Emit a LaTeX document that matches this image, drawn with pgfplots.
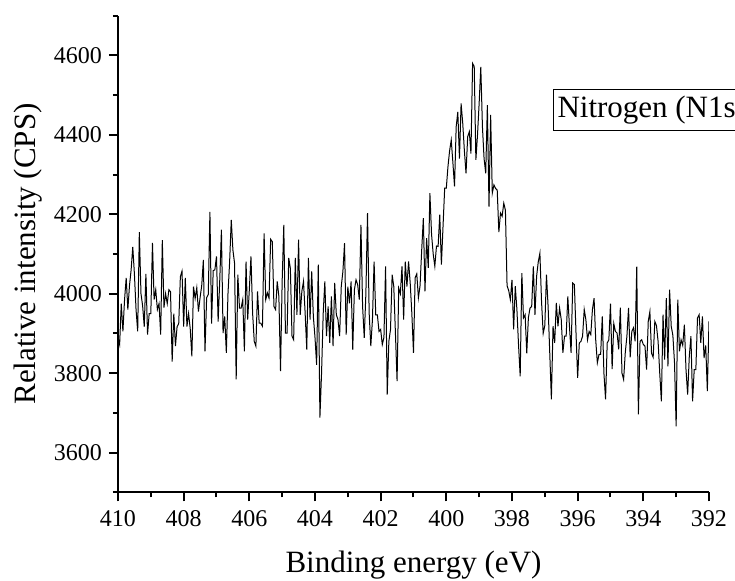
\documentclass[border=0pt]{standalone}
\usepackage{fontspec}
\setmainfont{Liberation Serif}
\usepackage{pgfplots}
\pgfplotsset{compat=1.18}
\begin{document}
\begin{tikzpicture}
\useasboundingbox (-59pt,-44.35pt) rectangle (308.5pt,246.15pt);
\begin{axis}[
  at={(0pt,0pt)}, anchor=south west,
  scale only axis, width=295.5pt, height=238.3pt,
  xmin=392, xmax=410, ymin=3500, ymax=4700,
  x dir=reverse,
  axis x line*=bottom, axis y line*=left,
  axis line style={line width=1pt, black},
  xtick={392,394,...,410}, minor xtick={393,395,...,409},
  ytick={3600,3800,...,4600}, minor ytick={3500,3700,...,4700},
  tick align=outside,
  major tick length=4.5pt, minor tick length=2.5pt,
  tick style={black, line width=1pt},
  tick label style={font=\fontsize{12}{14}\selectfont},
  xticklabel shift=1pt,
  /pgf/number format/assume math mode=true,
  /pgf/number format/1000 sep={},
  xlabel={Binding energy (eV)}, ylabel={Relative intensity (CPS)},
  label style={font=\fontsize{15.5}{18}\selectfont},
  xlabel style={at={(axis description cs:0.5,-0.1693)}, anchor=base},
  ylabel style={at={(axis description cs:-0.1404,0.5)}, anchor=base},
]
\addplot[black, line width=0.5pt, mark=none] table[row sep=\\] {
410.00 3890 \\ 409.95 3872 \\ 409.90 3975 \\ 409.85 3905 \\ 409.80 3985 \\ 409.75 4040 \\ 409.70 3960 \\ 409.65 4020 \\ 409.60 4060 \\ 409.55 4118 \\
409.50 4050 \\ 409.45 3960 \\ 409.40 3905 \\ 409.35 4155 \\ 409.30 4000 \\ 409.25 3970 \\ 409.20 3917 \\ 409.15 4050 \\ 409.10 3897 \\ 409.05 3950 \\
409.00 3950 \\ 408.95 4128 \\ 408.90 3985 \\ 408.85 4010 \\ 408.80 3960 \\ 408.75 3975 \\ 408.70 3897 \\ 408.65 4135 \\ 408.60 3965 \\ 408.55 4000 \\
408.50 3975 \\ 408.45 4010 \\ 408.40 4005 \\ 408.35 3829 \\ 408.30 3950 \\ 408.25 3868 \\ 408.20 3917 \\ 408.15 3925 \\ 408.10 4043 \\ 408.05 4057 \\
408.00 3917 \\ 407.95 4040 \\ 407.90 3917 \\ 407.85 3950 \\ 407.80 3912 \\ 407.75 3842 \\ 407.70 4018 \\ 407.65 3988 \\ 407.60 4015 \\ 407.55 3955 \\
407.50 3990 \\ 407.45 4020 \\ 407.40 4085 \\ 407.35 3855 \\ 407.30 3990 \\ 407.25 3998 \\ 407.20 4206 \\ 407.15 3925 \\ 407.10 4058 \\ 407.05 4060 \\
407.00 4094 \\ 406.95 3930 \\ 406.90 4035 \\ 406.85 4161 \\ 406.80 3901 \\ 406.75 3943 \\ 406.70 3851 \\ 406.65 4000 \\ 406.60 4080 \\ 406.55 4186 \\
406.50 4110 \\ 406.45 4077 \\ 406.40 3784 \\ 406.35 4048 \\ 406.30 3964 \\ 406.25 3964 \\ 406.20 3985 \\ 406.15 3855 \\ 406.10 4081 \\ 406.05 3935 \\
406.00 4010 \\ 405.95 4094 \\ 405.90 3951 \\ 405.85 3880 \\ 405.80 3868 \\ 405.75 4006 \\ 405.70 3926 \\ 405.65 3926 \\ 405.60 3918 \\ 405.55 4152 \\
405.50 3985 \\ 405.45 4002 \\ 405.40 3989 \\ 405.35 4137 \\ 405.30 4131 \\ 405.25 3968 \\ 405.20 3960 \\ 405.15 4031 \\ 405.10 3993 \\ 405.05 3805 \\
405.00 4031 \\ 404.95 4173 \\ 404.90 3901 \\ 404.85 3901 \\ 404.80 4090 \\ 404.75 4064 \\ 404.70 3893 \\ 404.65 3884 \\ 404.60 4090 \\ 404.55 3947 \\
404.50 4136 \\ 404.45 3947 \\ 404.40 4006 \\ 404.35 4031 \\ 404.30 3951 \\ 404.25 3859 \\ 404.20 4090 \\ 404.15 3935 \\ 404.10 4056 \\ 404.05 3943 \\
404.00 3890 \\ 403.95 3821 \\ 403.90 4073 \\ 403.85 3688 \\ 403.80 3800 \\ 403.75 3950 \\ 403.70 4031 \\ 403.65 3893 \\ 403.60 3968 \\ 403.55 3876 \\
403.50 3993 \\ 403.45 3868 \\ 403.40 4027 \\ 403.35 3947 \\ 403.30 3935 \\ 403.25 3893 \\ 403.20 4018 \\ 403.15 4056 \\ 403.10 4127 \\ 403.05 3897 \\
403.00 4018 \\ 402.95 3976 \\ 402.90 4031 \\ 402.85 3859 \\ 402.80 4010 \\ 402.75 4035 \\ 402.70 4023 \\ 402.65 3985 \\ 402.60 4173 \\ 402.55 3968 \\
402.50 3889 \\ 402.45 4000 \\ 402.40 4203 \\ 402.35 3951 \\ 402.30 3868 \\ 402.25 3935 \\ 402.20 4081 \\ 402.15 3947 \\ 402.10 3947 \\ 402.05 3905 \\
402.00 3910 \\ 401.95 3872 \\ 401.90 3890 \\ 401.85 4069 \\ 401.80 3746 \\ 401.75 3880 \\ 401.70 3910 \\ 401.65 4048 \\ 401.60 4018 \\ 401.55 3900 \\
401.50 3780 \\ 401.45 4014 \\ 401.40 4000 \\ 401.35 4069 \\ 401.30 3935 \\ 401.25 4081 \\ 401.20 4018 \\ 401.15 4081 \\ 401.10 4027 \\ 401.05 3950 \\
401.00 3851 \\ 400.95 4040 \\ 400.90 4050 \\ 400.85 3990 \\ 400.80 4020 \\ 400.75 4110 \\ 400.70 4190 \\ 400.65 4006 \\ 400.60 4140 \\ 400.55 4065 \\
400.50 4253 \\ 400.45 4150 \\ 400.40 4100 \\ 400.35 4069 \\ 400.30 4120 \\ 400.25 4119 \\ 400.20 4199 \\ 400.15 4073 \\ 400.10 4170 \\ 400.05 4266 \\
400.00 4266 \\ 399.95 4320 \\ 399.90 4360 \\ 399.85 4387 \\ 399.80 4330 \\ 399.75 4270 \\ 399.70 4420 \\ 399.65 4458 \\ 399.60 4340 \\ 399.55 4479 \\
399.50 4429 \\ 399.45 4360 \\ 399.40 4303 \\ 399.35 4395 \\ 399.30 4408 \\ 399.25 4353 \\ 399.20 4580 \\ 399.15 4572 \\ 399.10 4337 \\ 399.05 4400 \\
399.00 4480 \\ 398.95 4571 \\ 398.90 4420 \\ 398.85 4340 \\ 398.80 4303 \\ 398.75 4475 \\ 398.70 4219 \\ 398.65 4450 \\ 398.60 4253 \\ 398.55 4274 \\
398.50 4265 \\ 398.45 4261 \\ 398.40 4155 \\ 398.35 4203 \\ 398.30 4195 \\ 398.25 4228 \\ 398.20 4210 \\
398.15 4020 \\ 398.10 4008 \\ 398.05 3985 \\ 398.00 4035 \\ 397.95 3910 \\ 397.90 4019 \\ 397.85 3960 \\ 397.80 3870 \\ 397.75 3792 \\ 397.70 4052 \\
397.65 3939 \\ 397.60 3947 \\ 397.55 3850 \\ 397.50 3940 \\ 397.45 3964 \\ 397.40 3968 \\ 397.35 4069 \\ 397.30 3947 \\ 397.25 4044 \\ 397.20 4080 \\
397.15 4102 \\ 397.10 3980 \\ 397.05 3900 \\ 397.00 3920 \\ 396.95 4048 \\ 396.90 3968 \\ 396.85 3851 \\ 396.80 3734 \\ 396.75 3918 \\ 396.70 3876 \\
396.65 3977 \\ 396.60 3918 \\ 396.55 3964 \\ 396.50 3935 \\ 396.45 3851 \\ 396.40 3893 \\ 396.35 3893 \\ 396.30 3993 \\ 396.25 3918 \\ 396.20 3851 \\
396.15 4027 \\ 396.10 4023 \\ 396.05 3901 \\ 396.00 3788 \\ 395.95 3876 \\ 395.90 3880 \\ 395.85 3893 \\ 395.80 3960 \\ 395.75 3935 \\ 395.70 3884 \\
395.65 3905 \\ 395.60 3897 \\ 395.55 3960 \\ 395.50 3989 \\ 395.45 3884 \\ 395.40 3826 \\ 395.35 3847 \\ 395.30 3847 \\ 395.25 3943 \\ 395.20 3800 \\
395.15 3734 \\ 395.10 3876 \\ 395.05 3884 \\
395.00 3975 \\ 394.95 3810 \\ 394.90 3925 \\ 394.85 3905 \\ 394.80 3901 \\ 394.75 3860 \\ 394.70 3965 \\ 394.65 3800 \\ 394.60 3784 \\ 394.55 3851 \\
394.50 3893 \\ 394.45 3964 \\ 394.40 3840 \\ 394.35 3905 \\ 394.30 3914 \\ 394.25 3880 \\ 394.20 4068 \\ 394.15 3696 \\ 394.10 3880 \\ 394.05 3884 \\
394.00 3872 \\ 393.95 3868 \\ 393.90 3809 \\ 393.85 3930 \\ 393.80 3955 \\ 393.75 3850 \\ 393.70 3840 \\ 393.65 3930 \\ 393.60 3920 \\ 393.55 3880 \\
393.50 3800 \\ 393.45 3729 \\ 393.40 3947 \\ 393.35 3834 \\ 393.30 3989 \\ 393.25 3817 \\ 393.20 4010 \\ 393.15 3918 \\ 393.10 3895 \\ 393.05 3826 \\
393.00 3666 \\ 392.95 3985 \\ 392.90 3855 \\ 392.85 3884 \\ 392.80 3870 \\ 392.75 3922 \\ 392.70 3809 \\ 392.65 3746 \\ 392.60 3842 \\ 392.55 3893 \\
392.50 3729 \\ 392.45 3809 \\ 392.40 3809 \\ 392.35 3939 \\ 392.30 3947 \\ 392.25 3876 \\ 392.20 3943 \\ 392.15 3838 \\ 392.10 3870 \\ 392.05 3755 \\
392.00 3930 \\
};
\end{axis}
\node[overlay, draw, line width=0.5pt, anchor=west, inner xsep=2pt, inner ysep=3.2pt, font=\fontsize{15.5}{18}\selectfont] at (217.5pt,191.15pt) {Nitrogen (N1s)};
\end{tikzpicture}
\end{document}
